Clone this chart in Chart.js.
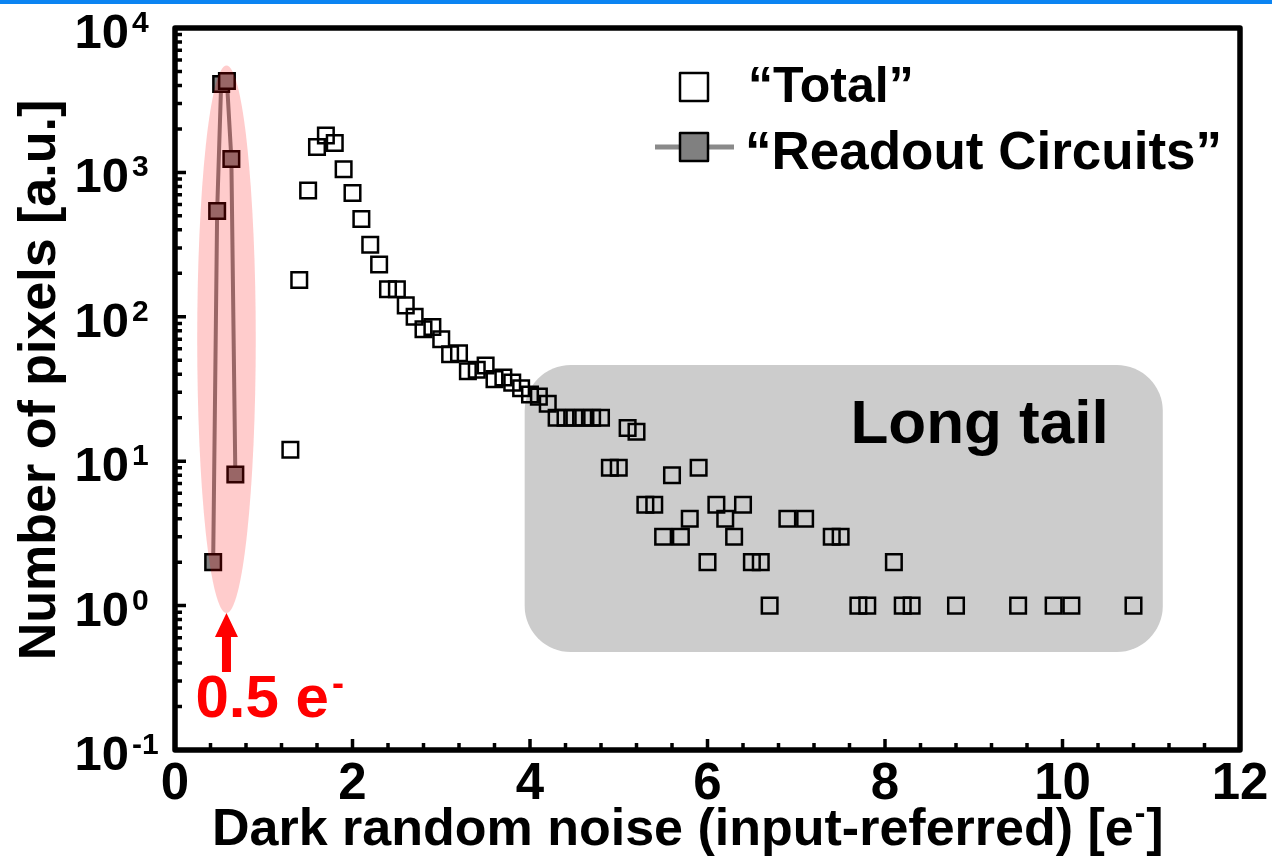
<!DOCTYPE html>
<html lang="en">
<head>
  <meta charset="UTF-8">
  <title>Dark random noise distribution</title>
  <script src="https://cdn.jsdelivr.net/npm/chart.js"></script>
  <style>
    html, body { margin: 0; padding: 0; background: #ffffff; overflow: hidden; }
    #noiseChart { display: block; }
  </style>
</head>
<body>
  <canvas id="noiseChart" width="1272" height="862"></canvas>

  <script>
    // "Total" histogram (noise in e-, pixel count)
    const totalNoise = [1.3, 1.4, 1.5, 1.6, 1.7, 1.8, 1.9, 2.0, 2.1, 2.2, 2.3, 2.4, 2.5, 2.6, 2.7, 2.8, 2.9, 3.0,
      3.1, 3.2, 3.3, 3.4, 3.5, 3.6, 3.7, 3.8, 3.9, 4.0, 4.1, 4.2, 4.3, 4.4, 4.5, 4.6, 4.7, 4.8, 4.9, 5.0,
      5.1, 5.2, 5.3, 5.4, 5.5, 5.6, 5.7, 5.8, 5.9, 6.0, 6.1, 6.2, 6.3, 6.4, 6.5, 6.6, 6.7,
      6.9, 7.1, 7.4, 7.5, 7.7, 7.8, 8.1, 8.2, 8.3, 8.8, 9.5, 9.9, 10.1, 10.8];
    const totalCounts = [12, 180, 750, 1500, 1800, 1600, 1050, 720, 475, 315, 230, 155, 155, 120, 100, 82, 85, 70,
      55, 56, 42, 43, 46, 37, 38, 35, 32, 29, 28, 25, 20, 20, 20, 20, 20, 20, 9, 9,
      17, 16, 5, 5, 3, 8, 3, 4, 9, 2, 5, 4, 3, 5, 2, 2, 1,
      4, 4, 3, 3, 1, 1, 2, 1, 1, 1, 1, 1, 1, 1];

    // "Readout Circuits" histogram
    const readoutNoise = [0.43, 0.475, 0.52, 0.585, 0.635, 0.68];
    const readoutCounts = [2, 540, 4100, 4300, 1240, 8.1];

    // axes
    const xMajorTicks = [0, 2, 4, 6, 8, 10, 12];
    const yExponents = [-1, 0, 1, 2, 3, 4];

    // annotations, in data units
    const tailBox = { x0: 3.94, x1: 11.13, y0: 0.478, y1: 46.4, label: 'Long tail', labelX: 7.61, labelY: 13.4 };
    const peakMark = { x: 0.58, halfWidth: 0.33, top: 5500, bottom: 0.89, label: '0.5 e' };

    const FONT = '"Liberation Sans", Arial, sans-serif';
    const font = size => 'bold ' + size + 'px ' + FONT;

    const decorations = {
      id: 'decorations',
      beforeDraw(chart) {
        const ctx = chart.ctx;
        ctx.save();
        ctx.fillStyle = '#ffffff';
        ctx.fillRect(0, 0, chart.width, chart.height);
        ctx.fillStyle = '#0b84f2';
        ctx.fillRect(0, 0, chart.width, 4);
        ctx.restore();
      },
      beforeDatasetsDraw(chart) {
        const { ctx, scales: { x, y } } = chart;
        const l = x.getPixelForValue(tailBox.x0), r = x.getPixelForValue(tailBox.x1);
        const t = y.getPixelForValue(tailBox.y1), b = y.getPixelForValue(tailBox.y0);
        ctx.save();
        ctx.fillStyle = '#cccccc';
        ctx.beginPath();
        ctx.roundRect(l, t, r - l, b - t, 46);
        ctx.fill();
        ctx.fillStyle = '#000000';
        ctx.font = font(62);
        ctx.textAlign = 'left';
        ctx.fillText(tailBox.label, x.getPixelForValue(tailBox.labelX), y.getPixelForValue(tailBox.labelY));
        ctx.restore();
      },
      afterDatasetsDraw(chart) {
        const { ctx, chartArea: a, scales: { x, y } } = chart;
        ctx.save();

        // pink highlight over the readout peak
        const cx = x.getPixelForValue(peakMark.x);
        const rx = x.getPixelForValue(peakMark.x + peakMark.halfWidth) - cx;
        const top = y.getPixelForValue(peakMark.top), bot = y.getPixelForValue(peakMark.bottom);
        ctx.fillStyle = 'rgba(255,0,0,0.2)';
        ctx.beginPath();
        ctx.ellipse(cx, (top + bot) / 2, rx, (bot - top) / 2, 0, 0, 2 * Math.PI);
        ctx.fill();

        // red arrow + label
        ctx.fillStyle = '#ff0000';
        ctx.beginPath();
        ctx.moveTo(cx, bot);
        ctx.lineTo(cx + 11.5, bot + 24);
        ctx.lineTo(cx + 4.5, bot + 24);
        ctx.lineTo(cx + 4.5, bot + 59);
        ctx.lineTo(cx - 4.5, bot + 59);
        ctx.lineTo(cx - 4.5, bot + 24);
        ctx.lineTo(cx - 11.5, bot + 24);
        ctx.closePath();
        ctx.fill();
        ctx.font = font(60);
        ctx.textAlign = 'left';
        const lx = cx - 31, ly = bot + 104;
        ctx.fillText(peakMark.label, lx, ly);
        const lw = ctx.measureText(peakMark.label).width;
        ctx.font = font(36);
        ctx.fillText('-', lx + lw + 3, ly - 22);

        // frame
        ctx.strokeStyle = '#000000';
        ctx.lineWidth = 5.5;
        ctx.lineJoin = 'round';
        ctx.strokeRect(a.left, a.top, a.right - a.left, a.bottom - a.top);

        // inward ticks
        ctx.lineWidth = 3.5;
        ctx.lineCap = 'butt';
        ctx.beginPath();
        for (let i = 1; i < 30; i++) {
          const px = x.getPixelForValue(i * 0.4);
          const len = i % 5 === 0 ? 11 : 7;
          ctx.moveTo(px, a.bottom);
          ctx.lineTo(px, a.bottom - len);
        }
        yExponents.forEach(e => {
          const py = y.getPixelForValue(Math.pow(10, e));
          ctx.moveTo(a.left, py);
          ctx.lineTo(a.left + 11, py);
          if (e < 4) {
            for (let m = 2; m <= 9; m++) {
              const pm = y.getPixelForValue(m * Math.pow(10, e));
              ctx.moveTo(a.left, pm);
              ctx.lineTo(a.left + 7, pm);
            }
          }
        });
        ctx.stroke();

        // tick labels
        ctx.fillStyle = '#000000';
        ctx.textAlign = 'center';
        ctx.font = font(51);
        xMajorTicks.forEach(v => ctx.fillText(String(v), x.getPixelForValue(v), a.bottom + 49));
        yExponents.forEach(e => {
          const py = y.getPixelForValue(Math.pow(10, e));
          ctx.font = font(49);
          ctx.textAlign = 'right';
          ctx.fillText('10', a.left - 46, py + 20);
          ctx.font = font(30);
          ctx.textAlign = 'left';
          ctx.fillText(String(e), a.left - 43, py + 4);
        });

        // axis titles
        ctx.font = font(52);
        ctx.textAlign = 'left';
        const xt1 = 'Dark random noise (input-referred) [e';
        const tx = 212, ty = 845;
        ctx.fillText(xt1, tx, ty);
        const w1 = ctx.measureText(xt1).width;
        ctx.font = font(32);
        ctx.fillText('-', tx + w1 + 1, ty - 22);
        const ws = ctx.measureText('-').width;
        ctx.font = font(52);
        ctx.fillText(']', tx + w1 + ws + 2, ty);

        ctx.save();
        ctx.translate(55, 380);
        ctx.rotate(-Math.PI / 2);
        ctx.textAlign = 'center';
        ctx.fillText('Number of pixels [a.u.]', 0, 0);
        ctx.restore();

        // legend
        ctx.lineWidth = 2.5;
        ctx.strokeStyle = '#000000';
        ctx.strokeRect(680, 73, 28, 28);
        ctx.font = font(50);
        ctx.textAlign = 'left';
        ctx.fillText(chart.data.datasets[1].label, 748, 102);

        ctx.strokeStyle = '#8a8a8a';
        ctx.lineWidth = 5;
        ctx.beginPath();
        ctx.moveTo(655, 147);
        ctx.lineTo(734, 147);
        ctx.stroke();
        ctx.fillStyle = '#808080';
        ctx.fillRect(680, 133, 28, 28);
        ctx.strokeStyle = '#000000';
        ctx.lineWidth = 2.5;
        ctx.strokeRect(680, 133, 28, 28);
        ctx.fillStyle = '#000000';
        ctx.font = font(53);
        ctx.fillText(chart.data.datasets[0].label, 745, 169);

        ctx.restore();
      }
    };

    new Chart(document.getElementById('noiseChart'), {
      type: 'scatter',
      data: {
        datasets: [
          {
            label: '“Readout Circuits”',
            data: readoutNoise.map((v, i) => ({ x: v, y: readoutCounts[i] })),
            showLine: true,
            borderColor: '#808080',
            borderWidth: 4,
            pointStyle: 'rect',
            pointRadius: 11,
            pointBackgroundColor: '#808080',
            pointBorderColor: '#000000',
            pointBorderWidth: 2.5
          },
          {
            label: '“Total”',
            data: totalNoise.map((v, i) => ({ x: v, y: totalCounts[i] })),
            pointStyle: 'rect',
            pointRadius: 11,
            pointBackgroundColor: 'rgba(0,0,0,0)',
            pointBorderColor: '#000000',
            pointBorderWidth: 2.5
          }
        ]
      },
      options: {
        responsive: false,
        animation: false,
        devicePixelRatio: 1,
        layout: { padding: { left: 175, right: 32, top: 28, bottom: 112 } },
        plugins: { legend: { display: false }, tooltip: { enabled: false } },
        scales: {
          x: { type: 'linear', min: 0, max: 12, display: false },
          y: { type: 'logarithmic', min: 0.1, max: 10000, display: false }
        }
      },
      plugins: [decorations]
    });
  </script>
</body>
</html>
